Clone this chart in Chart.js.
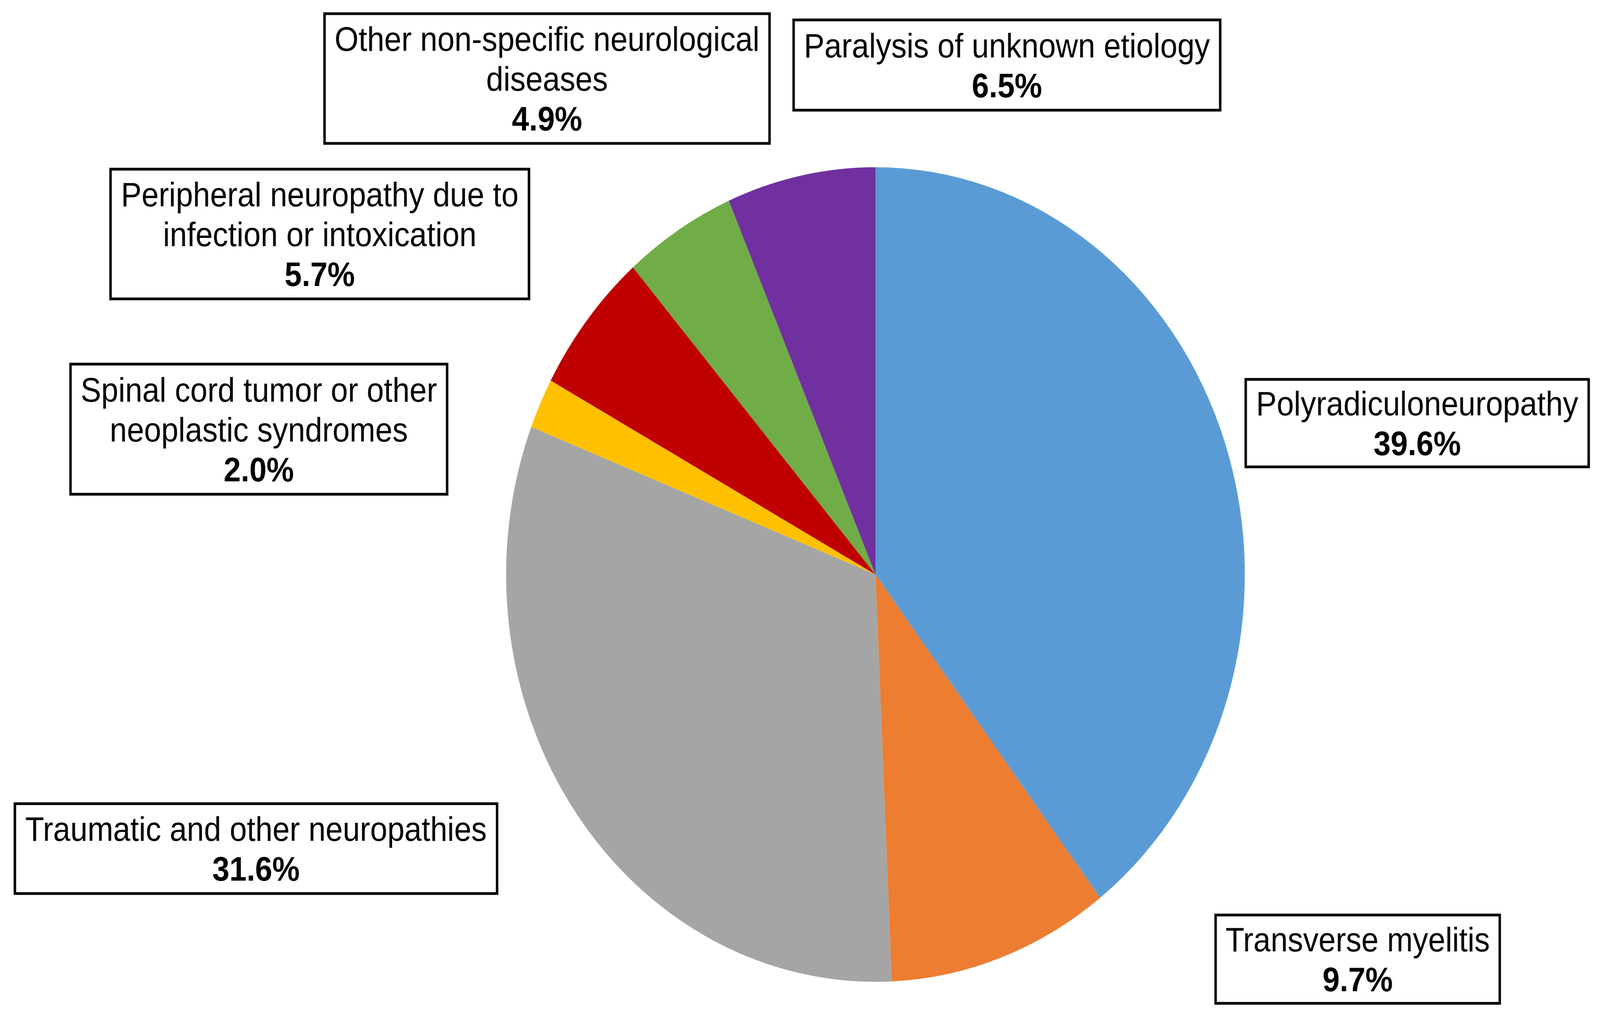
<!DOCTYPE html>
<html>
<head>
<meta charset="utf-8">
<script src="https://cdn.jsdelivr.net/npm/chart.js@4/dist/chart.umd.min.js"></script>
<style>
  html, body { margin: 0; padding: 0; background: #ffffff; overflow: hidden; }
  #wrap { width: 100vw; height: 100vh; position: relative; }
  canvas { display: block; }
</style>
</head>
<body>
<div id="wrap"><canvas id="c" width="4516" height="2603"></canvas></div>
<script>
// ---- data ----
const categories = [
  ["Polyradiculoneuropathy"],
  ["Transverse myelitis"],
  ["Traumatic and other neuropathies"],
  ["Spinal cord tumor or other", "neoplastic syndromes"],
  ["Peripheral neuropathy due to", "infection or intoxication"],
  ["Other non-specific neurological", "diseases"],
  ["Paralysis of unknown etiology"]
];
const values = [39.6, 9.7, 31.6, 2.0, 5.7, 4.9, 6.5];
const sliceColors = ["#5B9BD5", "#ED7D31", "#A5A5A5", "#FFC000", "#C00000", "#70AD47", "#7030A0"];

// ---- layout, in reference pixels (4516 x 2603) ----
const REF_W = 4516, REF_H = 2603;
const boxRects = [
  [3516, 971, 4484, 1195],
  [3431, 2342, 4233, 2568],
  [42, 2057, 1403, 2287],
  [199, 932, 1262, 1265],
  [312, 433, 1493, 765],
  [916, 35, 2172, 367],
  [2240, 51, 3444, 282]
];
const FONT = '"Liberation Sans", Arial, sans-serif';
const FS = 87, LH = 102, BORDER = 7;
const cxP = 2471, cyP = 1470.5, R = 1042.5;

const canvas = document.getElementById('c');

const labelBoxes = {
  id: 'labelBoxes',
  afterDraw(chart) {
    const ctx = chart.ctx;
    ctx.save();
    const data = chart.data.datasets[0].data;
    chart.data.labels.forEach((lines, i) => {
      const [x0, y0, x1, y1] = boxRects[i];
      ctx.fillStyle = '#ffffff';
      ctx.fillRect(x0, y0, x1 - x0, y1 - y0);
      ctx.lineWidth = BORDER;
      ctx.strokeStyle = '#000000';
      ctx.lineJoin = 'miter';
      ctx.strokeRect(x0, y0, x1 - x0, y1 - y0);
      const all = lines.map(t => ({ t, bold: false }));
      all.push({ t: data[i].toFixed(1) + '%', bold: true });
      const cx = (x0 + x1) / 2, cy = (y0 + y1) / 2;
      const n = all.length;
      ctx.fillStyle = '#000000';
      ctx.textAlign = 'center';
      ctx.textBaseline = 'alphabetic';
      all.forEach((ln, k) => {
        const lc = cy + (k - (n - 1) / 2) * LH;
        ctx.font = (ln.bold ? 'bold ' : '') + FS + 'px ' + FONT;
        ctx.fillText(ln.t, cx, lc + 0.36 * FS);
      });
    });
    ctx.restore();
  }
};

new Chart(canvas, {
  type: 'pie',
  data: {
    labels: categories,
    datasets: [{
      data: values,
      backgroundColor: sliceColors,
      borderWidth: 0,
      hoverOffset: 0,
      offset: 0
    }]
  },
  options: {
    responsive: false,
    devicePixelRatio: 1,
    animation: false,
    events: [],
    layout: {
      padding: {
        left: cxP - R,
        right: REF_W - (cxP + R),
        top: cyP - R,
        bottom: REF_H - (cyP + R)
      }
    },
    plugins: {
      legend: { display: false },
      tooltip: { enabled: false }
    }
  },
  plugins: [labelBoxes]
});

// fit the 4516x2603 drawing to whatever viewport the page is shown in
canvas.style.width = window.innerWidth + 'px';
canvas.style.height = window.innerHeight + 'px';
</script>
</body>
</html>
